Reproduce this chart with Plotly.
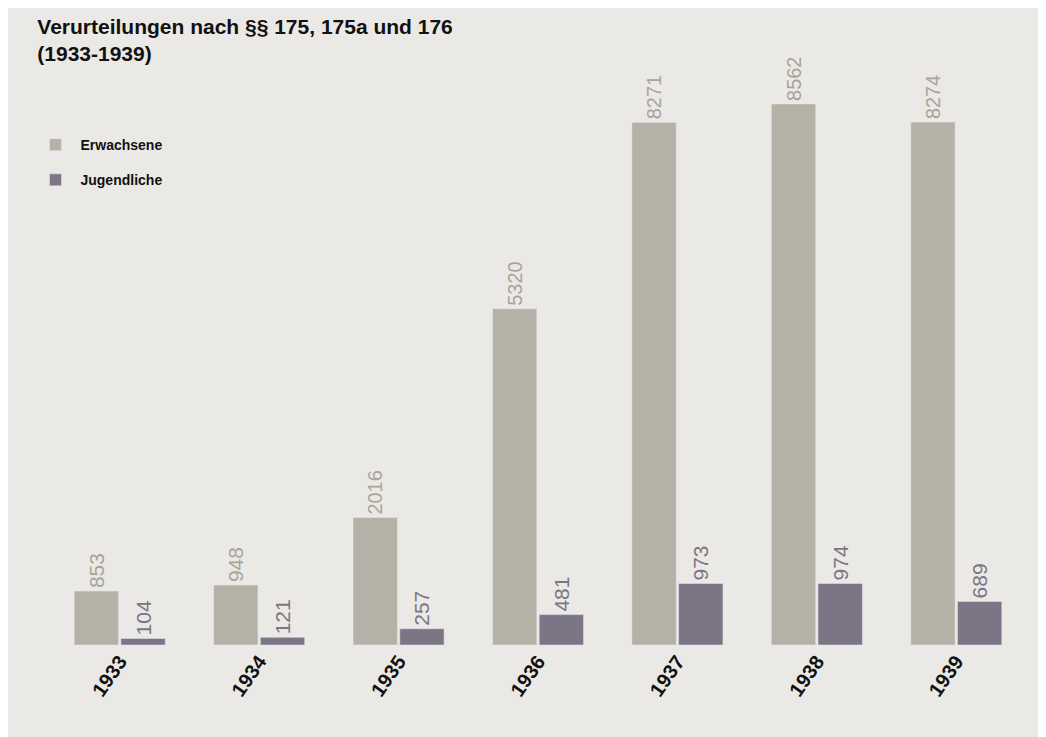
import plotly.graph_objects as go

years = ["1933", "1934", "1935", "1936", "1937", "1938", "1939"]
erwachsene = [853, 948, 2016, 5320, 8271, 8562, 8274]
jugendliche = [104, 121, 257, 481, 973, 974, 689]

bg = "#ebe9e6"
c1 = "#b5b1a6"
c2 = "#7b7585"

fig = go.Figure()
fig.add_bar(x=years, y=erwachsene, name="Erwachsene", marker_color=c1, legendgroup="a",
            text=[str(v) for v in erwachsene], textposition="outside", textangle=-90,
            textfont=dict(color="#a8a49a", size=21, family="Liberation Sans"), cliponaxis=False)
fig.add_bar(x=years, y=jugendliche, name="Jugendliche", marker_color=c2, legendgroup="b",
            text=[str(v) for v in jugendliche], textposition="outside", textangle=-90,
            textfont=dict(color=c2, size=21, family="Liberation Sans"), cliponaxis=False)

fig.update_layout(
    width=1046, height=737, paper_bgcolor=bg, plot_bgcolor=bg,
    margin=dict(l=42, r=28, t=30, b=100),
    barmode="group", bargap=0.33, bargroupgap=0.05,
    title=dict(text="<b>Verurteilungen nach §§ 175, 175a und 176<br>(1933-1939)</b>",
               x=0.028, xanchor="left", y=0.965, yanchor="top",
               font=dict(family="Liberation Sans", size=21, color="#111")),
    legend=dict(x=-0.02, y=0.85, xanchor="left", yanchor="top", bgcolor="rgba(0,0,0,0)",
                font=dict(family="Liberation Sans", size=14, color="#111", weight="bold"),
                itemwidth=40, tracegroupgap=14),
    xaxis=dict(tickangle=-55, showgrid=False, showline=False, ticks="",
               tickfont=dict(family="Liberation Sans", size=20, color="#111", weight="bold")),
    yaxis=dict(range=[0, 9605], visible=False),
    showlegend=True,
)
fig.write_html("out.html")
